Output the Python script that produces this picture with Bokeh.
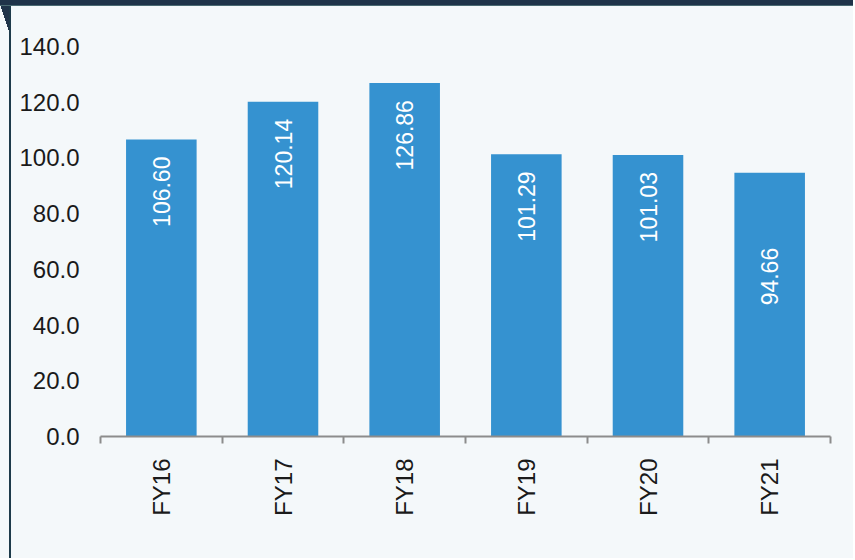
import math
from bokeh.plotting import figure
from bokeh.models import (Range1d, LinearAxis, FixedTicker, NumeralTickFormatter,
                          ColumnDataSource, CustomJSTickFormatter)
from bokeh.core.properties import value
from bokeh.embed import file_html
from bokeh.resources import INLINE

# ---- data ----
categories = ["FY16", "FY17", "FY18", "FY19", "FY20", "FY21"]
values = [106.60, 120.14, 126.86, 101.29, 101.03, 94.66]
value_labels = ["106.60", "120.14", "126.86", "101.29", "101.03", "94.66"]
y_ticks = [0, 20, 40, 60, 80, 100, 120, 140]

# ---- styles ----
BG = "#f4f8fa"
BAR = "#3592d0"
AXIS_GREY = "#8c8c8c"
DARK = "#1f3349"
FONT = "Liberation Sans"
label_offsets_px = [17, 17, 17, 17, 17, 75]

W, H = 853, 558
n = len(categories)
slot_centers = [i + 0.5 for i in range(n)]   # category slots on the x scale
slot_edges = list(range(n + 1))

src = ColumnDataSource(dict(x=slot_centers, cat=categories, val=values,
                            lab=value_labels, off=label_offsets_px))

p = figure(width=W, height=H,
           x_range=Range1d(0, n), y_range=Range1d(0, 140),
           output_backend="svg", toolbar_location=None,
           x_axis_location=None, y_axis_location="left",
           min_border_left=100, min_border_right=23, min_border_top=46, min_border_bottom=122,
           background_fill_color=BG, border_fill_color=BG, border_fill_alpha=0,
           outline_line_color=None)

# page decoration (dark top band, left rule, corner tab) painted behind the transparent border
p.styles = {
    "background-color": BG,
    "background-image": (f"linear-gradient({DARK}, {DARK}), "
                         "linear-gradient(#4a6a72, #4a6a72), "
                         "linear-gradient(#1d3a4a, #1d3a4a), "
                         f"linear-gradient(to bottom left, {DARK} 50%, transparent 50%)"),
    "background-size": "100% 5px, 100% 6px, 2px 100%, 10px 30px",
    "background-position": "0 0, 0 0, 9px 0, 0 5px",
    "background-repeat": "no-repeat",
}

p.xgrid.grid_line_color = None
p.ygrid.grid_line_color = None

ya = p.yaxis[0]
ya.ticker = FixedTicker(ticks=y_ticks)
ya.formatter = NumeralTickFormatter(format="0.0")
ya.axis_line_color = None
ya.major_tick_line_color = None
ya.minor_tick_line_color = None
ya.major_tick_out = 0
ya.major_tick_in = 0
ya.major_label_standoff = 21
ya.major_label_text_font = FONT
ya.major_label_text_font_size = "24px"
ya.major_label_text_color = "#1a1a1a"

p.vbar(x="x", top="val", width=0.58, source=src, fill_color=BAR, line_color=None)

p.text(x="x", y="val", text="lab", source=src, angle=math.pi / 2,
       text_align="right", text_baseline="middle", y_offset="off",
       text_color="white", text_font=value(FONT), text_font_size="23px")

# x axis: labels at slot centres, separator (minor) ticks at slot edges
xa = LinearAxis(ticker=FixedTicker(ticks=slot_centers, minor_ticks=slot_edges),
                formatter=CustomJSTickFormatter(args=dict(cats=categories),
                                                code="return cats[Math.floor(tick)];"),
                axis_line_color=AXIS_GREY, axis_line_width=2,
                major_tick_line_color=None, major_tick_out=0, major_tick_in=0,
                minor_tick_line_color=AXIS_GREY, minor_tick_line_width=2,
                minor_tick_out=7, minor_tick_in=0,
                major_label_orientation=math.pi / 2,
                major_label_standoff=15,
                major_label_text_font=FONT,
                major_label_text_font_size="24px",
                major_label_text_color="#1a1a1a")
p.add_layout(xa, "below")

open("out.html", "w").write(file_html(p, INLINE))
